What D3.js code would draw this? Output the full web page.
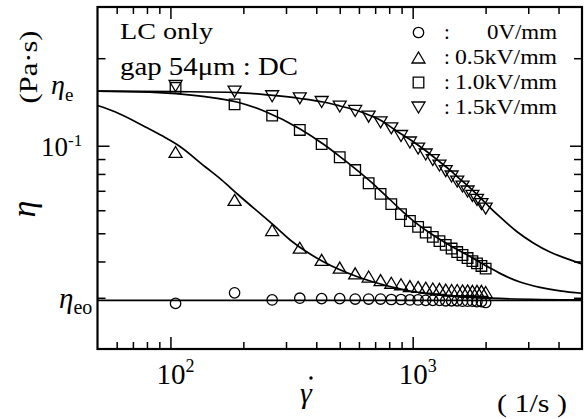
<!DOCTYPE html>
<html lang="en">
<head>
<meta charset="UTF-8">
<script src="https://cdn.jsdelivr.net/npm/d3@7"></script>
<style>
    html, body { margin: 0; background: #fff; overflow: hidden; }
</style>
<title>LC only viscosity</title>
</head>
<body>
<svg id="svg"></svg>
<script>
    // measured points: shear rate (1/s) and viscosity (Pa·s)
    const shearRate = [105, 184, 263, 342, 421, 500, 579, 658, 737, 816, 895, 974, 1053,
        1132, 1211, 1290, 1369, 1448, 1527, 1606, 1685, 1764, 1843, 1922, 2001];
    const eta0V = [0.0287, 0.0312, 0.0295, 0.0299, 0.0298, 0.0298, 0.0297, 0.0297, 0.0297,
        0.0296, 0.0296, 0.0295, 0.0295, 0.0294, 0.0294, 0.0294, 0.0293, 0.0293, 0.0293,
        0.0292, 0.0292, 0.0292, 0.0291, 0.0291, 0.0289];
    const eta05kV = [0.0952, 0.0651, 0.0513, 0.0446, 0.0405, 0.0381, 0.0364, 0.0355, 0.0345,
        0.0338, 0.0334, 0.0329, 0.0327, 0.0325, 0.0323, 0.0322, 0.0320, 0.0319, 0.0319,
        0.0318, 0.0318, 0.0317, 0.0317, 0.0317, 0.0314];
    const eta10kV = [0.158, 0.1388, 0.1269, 0.1133, 0.1014, 0.0913, 0.0825, 0.0743, 0.0683,
        0.0630, 0.0582, 0.0551, 0.0526, 0.0503, 0.0486, 0.0470, 0.0456, 0.0443, 0.0431,
        0.0421, 0.0411, 0.0401, 0.0394, 0.0386, 0.0378];
    const eta15kV = [0.1605, 0.1535, 0.148, 0.1456, 0.1414, 0.1364, 0.1317, 0.1259, 0.1204,
        0.1148, 0.108, 0.1026, 0.0978, 0.0933, 0.0893, 0.0855, 0.0818, 0.0784, 0.0753,
        0.0724, 0.0696, 0.0672, 0.0651, 0.0630, 0.0608];

    // fitted curves
    const fit05Rate = [50, 59, 78.5, 92, 108, 139, 163, 191, 266, 312, 428, 588, 806, 1106, 1520, 2085, 5000];
    const fit05Eta = [0.1375, 0.1309, 0.1163, 0.1084, 0.1002, 0.0847, 0.0762, 0.0677, 0.0534,
        0.0474, 0.0399, 0.0355, 0.0328, 0.0311, 0.0303, 0.0299, 0.0295];
    const fit10Rate = [50, 82, 105, 139, 188, 246, 343, 427, 501, 589, 667, 747, 830, 912, 1003,
        1179, 1426, 1725, 2085, 2293, 2774, 3354, 4057, 5000];
    const fit10Eta = [0.1542, 0.153, 0.1512, 0.1476, 0.1414, 0.1312, 0.1142, 0.1014, 0.0918,
        0.0825, 0.0756, 0.0693, 0.0638, 0.0592, 0.0553, 0.0501, 0.0454, 0.0416, 0.0380,
        0.0364, 0.0340, 0.0326, 0.0317, 0.0311];
    const fit15Rate = [50, 105, 188, 265, 343, 427, 501, 589, 667, 747, 846, 975, 1072, 1179,
        1296, 1426, 1568, 1725, 1896, 2085, 2293, 2688, 3148, 3689, 4323, 5000];
    const fit15Eta = [0.1542, 0.1535, 0.1524, 0.1489, 0.1454, 0.1414, 0.1370, 0.1322, 0.1271,
        0.1217, 0.1133, 0.1051, 0.0994, 0.0937, 0.0879, 0.0825, 0.0768, 0.0716, 0.0664,
        0.0613, 0.0569, 0.0507, 0.0463, 0.0431, 0.0409, 0.0392];
    const etaEo = 0.0294;
    const etaE = 0.1542;

    const xMajor = [100, 1000];
    const xMinor = [60, 70, 80, 90, 200, 300, 400, 500, 600, 700, 800, 900, 2000, 3000, 4000];
    const yMajor = [0.1];
    const yMinor = [0.03, 0.04, 0.05, 0.06, 0.07, 0.08, 0.09, 0.2];
    const legendLabels = ['0V/mm', '0.5kV/mm', '1.0kV/mm', '1.5kV/mm'];

    const width = 585, height = 419;
    const margin = { top: 7, right: 3, bottom: 70, left: 97.5 };

    const svg = d3.select('#svg').attr('width', width).attr('height', height)
        .attr('font-family', "'Liberation Serif', 'Times New Roman', Times, serif");

    const x = d3.scaleLog().domain([50, 5000]).range([margin.left, width - margin.right]);
    const y = d3.scaleLog().domain([0.02, 0.3]).range([height - margin.bottom, margin.top]);

    const shapes = {
        circle: 'M5.2,0A5.2,5.2 0 1,1 -5.2,0A5.2,5.2 0 1,1 5.2,0Z',
        up: 'M0,-5.5L6.5,5.5L-6.5,5.5Z',
        square: 'M-5.3,-5.3H5.3V5.3H-5.3Z',
        down: 'M0,5.5L6.5,-5.5L-6.5,-5.5Z'
    };
    const series = [
        { label: legendLabels[0], values: eta0V, shape: 'circle' },
        { label: legendLabels[1], values: eta05kV, shape: 'up' },
        { label: legendLabels[2], values: eta10kV, shape: 'square' },
        { label: legendLabels[3], values: eta15kV, shape: 'down' }
    ];

    // ticks (all pointing inward)
    const noLabel = () => '';
    const axes = [
        [d3.axisBottom(x), `translate(0,${height - margin.bottom})`, xMajor, xMinor],
        [d3.axisTop(x), `translate(0,${margin.top})`, xMajor, xMinor],
        [d3.axisLeft(y), `translate(${margin.left},0)`, yMajor, yMinor],
        [d3.axisRight(y), `translate(${width - margin.right},0)`, yMajor, yMinor]
    ];
    axes.forEach(([ax, tr, major, minor], i) => {
        const minorLen = i < 2 ? 7 : 8;
        svg.append('g').attr('transform', tr)
            .call(ax.tickValues(major).tickSize(-12).tickFormat(noLabel))
            .call(g => g.select('.domain').remove())
            .selectAll('line').attr('stroke-width', 1.5);
        svg.append('g').attr('transform', tr)
            .call(ax.tickValues(minor).tickSize(-minorLen).tickFormat(noLabel))
            .call(g => g.select('.domain').remove())
            .selectAll('line').attr('stroke-width', 1.5);
    });

    svg.append('rect')
        .attr('x', margin.left).attr('y', margin.top)
        .attr('width', width - margin.left - margin.right)
        .attr('height', height - margin.top - margin.bottom)
        .attr('fill', 'none').attr('stroke', '#000').attr('stroke-width', 2.2);

    // curves
    const line = d3.line().x(d => x(d[0])).y(d => y(d[1])).curve(d3.curveMonotoneX);
    const fits = [d3.zip(fit05Rate, fit05Eta), d3.zip(fit10Rate, fit10Eta), d3.zip(fit15Rate, fit15Eta),
        [[50, etaEo], [5000, etaEo]]];
    svg.append('g').selectAll('path').data(fits).join('path')
        .attr('d', line)
        .attr('fill', 'none').attr('stroke', '#000').attr('stroke-width', 1.7);

    // markers
    series.forEach(s => {
        svg.append('g').selectAll('path').data(d3.zip(shearRate, s.values)).join('path')
            .attr('transform', d => `translate(${x(d[0])},${y(d[1])})`)
            .attr('d', shapes[s.shape])
            .attr('fill', 'none').attr('stroke', '#000').attr('stroke-width', 1.3);
    });

    // legend
    const legend = svg.append('g');
    series.forEach((s, i) => {
        const cy = 32.5 + i * 25;
        legend.append('path').attr('transform', `translate(418.5,${cy})`)
            .attr('d', shapes[s.shape]).attr('fill', 'none').attr('stroke', '#000').attr('stroke-width', 1.3);
        legend.append('text').attr('x', 444).attr('y', cy + 6.8).attr('font-size', 21).text(':');
        legend.append('text').attr('x', 557).attr('y', cy + 6.8).attr('font-size', 21)
            .attr('text-anchor', 'end')
            .attr('textLength', i === 0 ? 70 : 102).attr('lengthAdjust', 'spacingAndGlyphs')
            .text(s.label);
    });

    // annotation
    svg.append('text').attr('x', 120).attr('y', 39).attr('font-size', 23)
        .attr('textLength', 93).attr('lengthAdjust', 'spacingAndGlyphs').text('LC only');
    svg.append('text').attr('x', 120).attr('y', 75).attr('font-size', 25)
        .attr('textLength', 178).attr('lengthAdjust', 'spacingAndGlyphs').text('gap 54μm : DC');

    // tick labels
    xMajor.forEach((v, i) => {
        const t = svg.append('text').attr('x', x(v) - 14).attr('y', 384).attr('font-size', 29);
        t.append('tspan').text('10');
        t.append('tspan').attr('font-size', 18).attr('dy', -12).text(String(i + 2));
    });
    yMajor.forEach(v => {
        const t = svg.append('text').attr('x', 41).attr('y', y(v) + 10.5).attr('font-size', 27);
        t.append('tspan').text('10');
        t.append('tspan').attr('font-size', 17).attr('dy', -10).text('-1');
    });

    // eta_e and eta_eo
    const te = svg.append('text').attr('x', 51).attr('y', y(etaE) + 3).attr('font-size', 28);
    te.append('tspan').attr('font-style', 'italic').text('η');
    te.append('tspan').attr('font-size', 19).attr('dy', 7).text('e');
    const teo = svg.append('text').attr('x', 59).attr('y', y(etaEo) + 8).attr('font-size', 29);
    teo.append('tspan').attr('font-style', 'italic').text('η');
    teo.append('tspan').attr('font-size', 20).attr('dy', 6).text('eo');

    // axis titles
    svg.append('text').attr('transform', 'translate(37,67) rotate(-90)')
        .attr('text-anchor', 'middle').attr('font-size', 25)
        .attr('textLength', 73).attr('lengthAdjust', 'spacingAndGlyphs').text('(Pa·s)');
    svg.append('text').attr('transform', 'translate(35,209) rotate(-90)')
        .attr('text-anchor', 'middle').attr('font-size', 34).attr('font-style', 'italic').text('η');

    svg.append('text').attr('x', 300).attr('y', 403).attr('font-size', 30)
        .attr('font-style', 'italic').text('γ');
    svg.append('circle').attr('cx', 311).attr('cy', 378).attr('r', 1.7).attr('fill', '#000');
    svg.append('text').attr('x', 497).attr('y', 412).attr('font-size', 25)
        .attr('textLength', 70).attr('lengthAdjust', 'spacingAndGlyphs').text('( 1/s )');
</script>
</body>
</html>
